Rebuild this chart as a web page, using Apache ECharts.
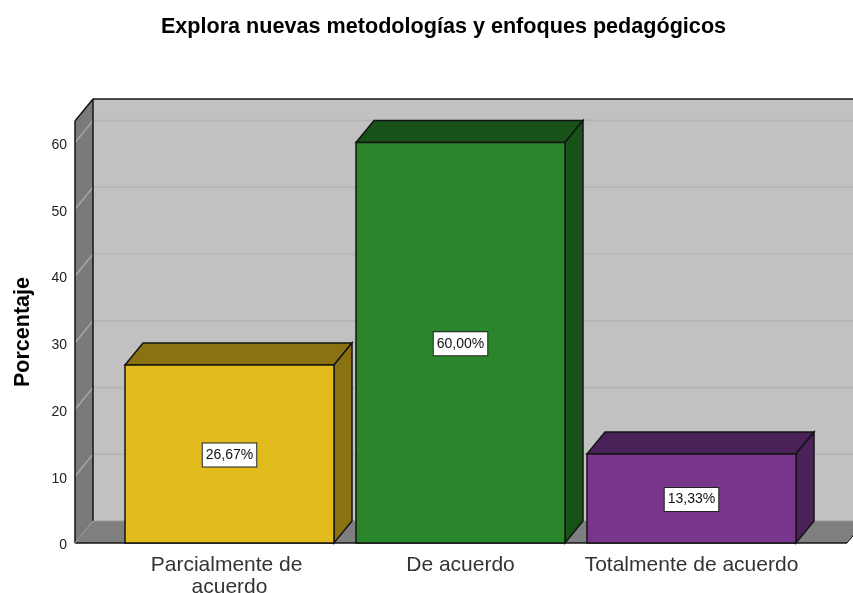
<!DOCTYPE html>
<html>
<head>
<meta charset="utf-8">
<style>html,body{margin:0;padding:0;background:#fff}#c{width:853px;height:593px}</style>
<script src="https://cdn.jsdelivr.net/npm/echarts@6/dist/echarts.min.js"></script>
</head>
<body>
<div id="c"></div>
<script>
const categories = ['Parcialmente de acuerdo', 'De acuerdo', 'Totalmente de acuerdo'];
const percentages = [26.67, 60.00, 13.33];
const yTicks = [10, 20, 30, 40, 50, 60];
const yMax = 63.22;

const frontColors = ['#E1BC1C', '#29862B', '#78368C'];
const darkColors = ['#8A7212', '#195218', '#4A2158'];
const DX = 18, DY = 22, LEFT_PAD = 39, RIGHT_PAD = 40, BAR_RATIO = 209 / 231;
const EDGE = '#141414';

const chart = echarts.init(document.getElementById('c'), null, { renderer: 'canvas' });

function extents(params, api) {
  const cs = params.coordSys;
  return { x0: cs.x - LEFT_PAD, x1: cs.x + cs.width + RIGHT_PAD, yb: api.coord([0, 0])[1], yt: api.coord([0, yMax])[1] };
}
function poly(points, fill, stroke, lw) {
  return { type: 'polygon', shape: { points }, style: { fill, stroke: stroke || null, lineWidth: lw || 0 } };
}
function seg(a, b, stroke, lw) {
  return { type: 'line', shape: { x1: a[0], y1: a[1], x2: b[0], y2: b[1] }, style: { stroke, lineWidth: lw, fill: null } };
}

function renderWalls(params, api) {
  const { x0, x1, yb, yt } = extents(params, api);
  return { type: 'group', children: [
    poly([[x0 + DX, yt - DY], [x1 + DX, yt - DY], [x1 + DX, yb - DY], [x0 + DX, yb - DY]], '#C1C1C1'),
    poly([[x0, yb], [x0 + DX, yb - DY], [x1 + DX, yb - DY], [x1, yb]], '#7F7F7F'),
    poly([[x0, yt], [x0 + DX, yt - DY], [x0 + DX, yb - DY], [x0, yb]], '#7A7A7A')
  ] };
}
function renderGrid(params, api) {
  const { x0, x1 } = extents(params, api);
  const y = api.coord([0, api.value(0)])[1];
  return { type: 'group', children: [
    seg([x0, y], [x0 + DX, y - DY], '#A6A6A6', 1.5),
    seg([x0 + DX, y - DY], [x1 + DX, y - DY], '#B4B4B4', 1.5)
  ] };
}
function renderEdges(params, api) {
  const { x0, x1, yb, yt } = extents(params, api);
  return { type: 'group', children: [
    seg([x0, yb], [x0, yt], EDGE, 1.5),
    seg([x0, yt], [x0 + DX, yt - DY], EDGE, 1.5),
    seg([x0 + DX, yt - DY], [x1 + DX, yt - DY], EDGE, 1.5),
    seg([x0 + DX, yt - DY], [x0 + DX, yb - DY], EDGE, 1.5),
    seg([x0, yb], [x1, yb], EDGE, 1.5),
    seg([x0, yb], [x0 + DX, yb - DY], '#9A9A9A', 1),
    seg([x0 + DX, yb - DY], [x1 + DX, yb - DY], '#9A9A9A', 1),
    seg([x1, yb], [x1 + DX, yb - DY], EDGE, 1)
  ] };
}
function renderBar(params, api) {
  const i = api.value(0), v = api.value(1);
  const top = api.coord([i, v]), base = api.coord([i, 0]);
  const w = api.size([1, 0])[0] * BAR_RATIO;
  const l = top[0] - w / 2, r = top[0] + w / 2, t = top[1], b = base[1];
  const dark = darkColors[i];
  return { type: 'group', children: [
    poly([[l, t], [l + DX, t - DY], [r + DX, t - DY], [r, t]], dark, EDGE, 1.5),
    poly([[r, t], [r + DX, t - DY], [r + DX, b - DY], [r, b]], dark, EDGE, 1.5),
    { type: 'rect', shape: { x: l, y: t, width: w, height: b - t }, style: { fill: frontColors[i], stroke: EDGE, lineWidth: 1.5 } },
    { type: 'text', x: top[0], y: (t + b) / 2 + 1, style: {
      text: v.toFixed(2).replace('.', ',') + '%',
      align: 'center', verticalAlign: 'middle',
      font: '14px "Liberation Sans", Arial, sans-serif',
      fill: '#111', backgroundColor: '#fff', borderColor: '#222', borderWidth: 1,
      padding: [5, 3, 4, 3]
    } }
  ] };
}

chart.setOption({
  animation: false,
  backgroundColor: '#fff',
  textStyle: { fontFamily: '"Liberation Sans", Arial, sans-serif' },
  title: {
    text: 'Explora nuevas metodologías y enfoques pedagógicos',
    left: 438.5, top: 11, textAlign: 'center',
    textStyle: { fontSize: 21.6, fontWeight: 'bold', color: '#000', fontFamily: '"Liberation Sans", Arial, sans-serif' }
  },
  grid: { left: 114, width: 693, top: 121, bottom: 50, containLabel: false, outerBoundsMode: 'none' },
  xAxis: {
    type: 'category', data: categories,
    axisLine: { show: false }, axisTick: { show: false }, splitLine: { show: false },
    axisLabel: { fontSize: 21, color: '#333', margin: 11, width: 226, overflow: 'break', lineHeight: 22, interval: 0 }
  },
  yAxis: {
    type: 'value', min: 0, max: yMax, interval: 10, offset: LEFT_PAD,
    name: 'Porcentaje', nameLocation: 'middle', nameGap: 41, nameRotate: 90,
    nameTextStyle: { fontSize: 21.5, fontWeight: 'bold', color: '#000' },
    axisLine: { show: false }, axisTick: { show: false }, splitLine: { show: false },
    axisLabel: { fontSize: 14, color: '#222', margin: 8, showMaxLabel: false, verticalAlign: 'top', lineHeight: 5 }
  },
  series: [
    { type: 'custom', z: 1, renderItem: renderWalls, data: [[0]], silent: true, encode: { x: -1, y: -1 } },
    { type: 'custom', z: 2, renderItem: renderGrid, data: yTicks.map(v => [v]), silent: true, encode: { x: -1, y: -1 } },
    { type: 'custom', z: 3, renderItem: renderEdges, data: [[0]], silent: true, encode: { x: -1, y: -1 } },
    { type: 'custom', z: 4, renderItem: renderBar, data: percentages.map((v, i) => [i, v]), encode: { x: 0, y: 1 } }
  ]
});
</script>
</body>
</html>
